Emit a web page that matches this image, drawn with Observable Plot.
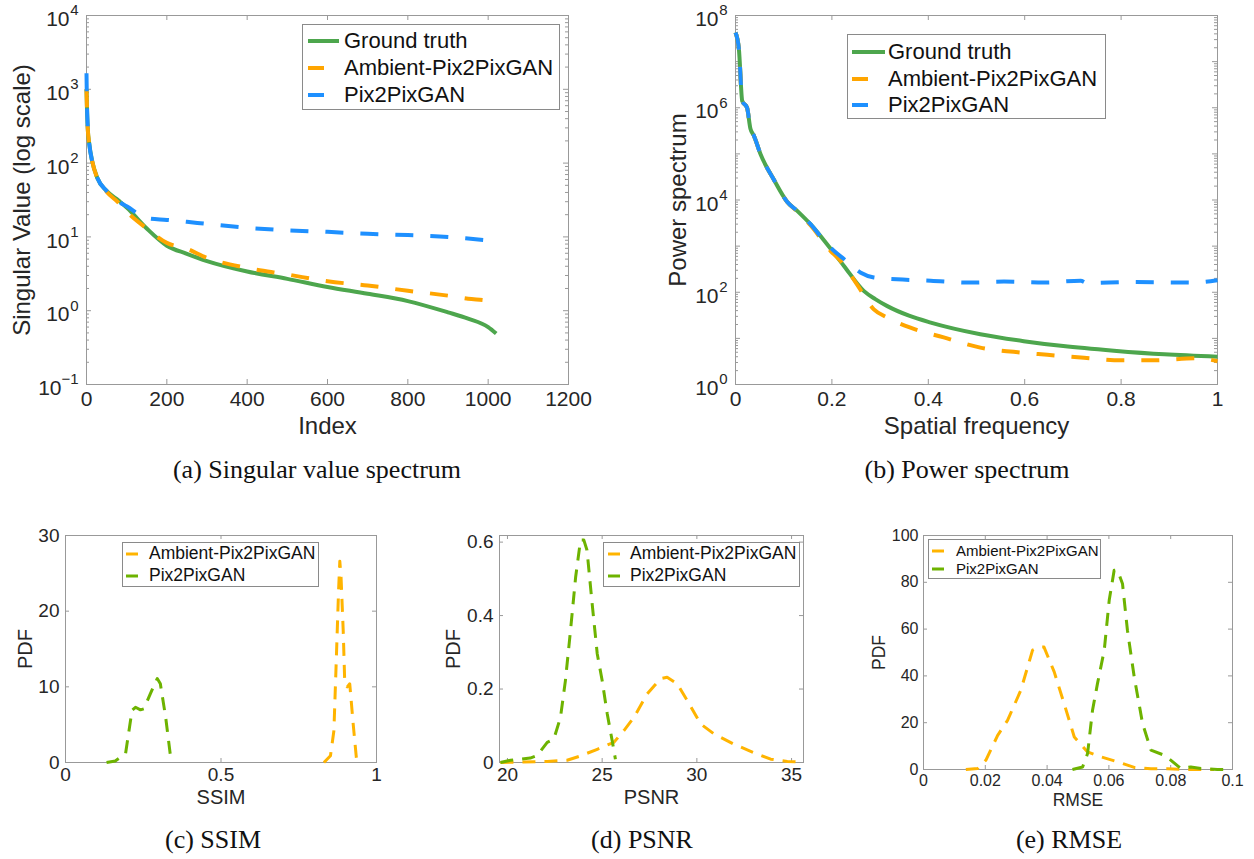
<!DOCTYPE html>
<html><head><meta charset="utf-8">
<script src="https://cdn.jsdelivr.net/npm/d3@7"></script>
<script src="https://cdn.jsdelivr.net/npm/@observablehq/plot@0.6"></script>
<style>
body{margin:0;background:#fff;width:1254px;height:859px;position:relative;overflow:hidden;font-family:"Liberation Sans",Arial,sans-serif;}
.cap{position:absolute;font-family:"Liberation Serif","Times New Roman",serif;font-size:26px;color:#111;transform:translate(-50%,-50%);white-space:nowrap;}
.leg{position:absolute;background:#fff;border:1px solid #8a8a8a;box-sizing:border-box;}
.leg .row{position:absolute;white-space:nowrap;color:#111;}
</style></head><body>
<script>
// ================= DATA =================
// (a) Singular value spectrum
const svIndex   = [0, 1, 3, 7, 14, 27, 50, 80, 100, 150, 200, 250, 300, 400, 500, 600, 700, 800, 900, 950, 1000, 1020];
const svTruth   = [1000, 600, 300, 180, 107, 63, 42, 31, 25, 13, 7.6, 5.9, 4.7, 3.4, 2.7, 2.1, 1.7, 1.35, 0.95, 0.78, 0.6, 0.49];
const svAmbient = [1000, 600, 300, 180, 107, 62, 41, 29, 22, 13, 8.3, 6.9, 5.2, 3.8, 3.1, 2.5, 2.2, 1.86, 1.6, 1.45, 1.36, 1.28];
const svPixIndex = [0, 1, 3, 7, 14, 27, 50, 80, 100, 150, 200, 250, 300, 400, 500, 600, 700, 800, 900, 950, 988];
const svPix      = [1650, 700, 320, 180, 107, 63, 42, 30, 26, 18, 17, 16, 15, 13.3, 12.3, 11.7, 11, 10.6, 10, 9.5, 9.1];
const svXTicks = [0, 200, 400, 600, 800, 1000, 1200];
const svYExp = [-1, 0, 1, 2, 3, 4];

// (b) Power spectrum
const psFreqTruth = [0, 0.007, 0.014, 0.024, 0.031, 0.038, 0.052, 0.08, 0.107, 0.128, 0.156, 0.19, 0.225, 0.266, 0.29, 0.315, 0.36, 0.405, 0.508, 0.598, 0.68, 0.785, 0.89, 1.0];
const psTruth     = [4.3e7, 1.9e7, 1.4e6, 1.0e6, 3.5e5, 2.5e5, 9.8e4, 2.7e4, 9.2e3, 5.8e3, 2.95e3, 1.1e3, 372, 107, 71, 50, 31, 22, 12.3, 8.7, 6.8, 5.4, 4.5, 4.0];
const psFreqAmbient = [0, 0.007, 0.014, 0.024, 0.031, 0.038, 0.052, 0.08, 0.107, 0.128, 0.156, 0.197, 0.218, 0.252, 0.287, 0.315, 0.363, 0.432, 0.508, 0.577, 0.647, 0.723, 0.80, 0.87, 0.958, 1.0];
const psAmbient     = [4.3e7, 1.9e7, 1.4e6, 1.0e6, 3.5e5, 2.5e5, 9.8e4, 2.7e4, 9.2e3, 5.6e3, 2.8e3, 790, 480, 148, 42.7, 28.2, 17, 10.5, 6.3, 5.1, 4.4, 3.8, 3.35, 3.35, 3.7, 3.2];
const psFreqPix = [0, 0.007, 0.014, 0.024, 0.031, 0.038, 0.052, 0.08, 0.107, 0.128, 0.156, 0.19, 0.204, 0.225, 0.259, 0.287, 0.335, 0.405, 0.488, 0.557, 0.64, 0.716, 0.73, 0.82, 0.945, 1.0];
const psPix     = [4.3e7, 1.9e7, 1.4e6, 1.0e6, 3.5e5, 2.5e5, 9.8e4, 2.7e4, 9.2e3, 5.8e3, 2.95e3, 1.1e3, 794, 525, 269, 209, 191, 178, 162, 170, 162, 178, 158, 166, 162, 182];
const psXTicks = [0, 0.2, 0.4, 0.6, 0.8, 1];
const psXLabels = ["0", "0.2", "0.4", "0.6", "0.8", "1"];
const psYExpLabeled = [0, 2, 4, 6, 8];

// (c) SSIM PDF
const ssimAmbientX = [0.831, 0.852, 0.863, 0.871, 0.878, 0.882, 0.886, 0.893, 0.898, 0.906, 0.914, 0.925, 0.936];
const ssimAmbientY = [0, 0.9, 4.2, 13.9, 22.7, 26.6, 24.5, 17.4, 10.4, 10.0, 10.4, 5.1, 0.3];
const ssimPixX = [0.132, 0.16, 0.193, 0.214, 0.225, 0.241, 0.252, 0.273, 0.295, 0.305, 0.322, 0.338];
const ssimPixY = [0, 0.2, 1.15, 6.9, 7.3, 6.96, 7.1, 9.1, 11.1, 10.4, 6.0, 0.7];
const ssimXTicks = [0, 0.5, 1];
const ssimXLabels = ["0", "0.5", "1"];
const ssimYTicks = [0, 10, 20, 30];

// (d) PSNR PDF
const psnrAmbientX = [19.63, 22.1, 23.15, 23.86, 24.74, 25.62, 26.15, 26.68, 27.38, 28.08, 28.43, 28.96, 29.49, 30.2, 30.9, 31.95, 33.0, 33.9, 34.78, 35.65];
const psnrAmbientY = [0, 0.003, 0.006, 0.018, 0.036, 0.055, 0.087, 0.123, 0.187, 0.228, 0.232, 0.214, 0.169, 0.105, 0.078, 0.050, 0.027, 0.009, 0.003, 0.001];
const psnrPixX = [19.63, 20.16, 21.2, 21.57, 22.1, 22.45, 22.8, 23.06, 23.33, 23.6, 23.86, 24.03, 24.2, 24.47, 24.74, 25.0, 25.27, 25.53, 25.7];
const psnrPixY = [0, 0.006, 0.012, 0.019, 0.055, 0.064, 0.123, 0.223, 0.36, 0.505, 0.606, 0.606, 0.578, 0.433, 0.296, 0.223, 0.132, 0.059, 0.009];
const psnrXTicks = [20, 25, 30, 35];
const psnrYTicks = [0, 0.2, 0.4, 0.6];
const psnrYLabels = ["0", "0.2", "0.4", "0.6"];

// (e) RMSE PDF
const rmseAmbientX = [0.0137, 0.0175, 0.0202, 0.024, 0.0272, 0.0315, 0.0353, 0.0374, 0.039, 0.0423, 0.0455, 0.0488, 0.0531, 0.0574, 0.0628, 0.0682, 0.0736, 0.079, 0.0854, 0.094];
const rmseAmbientY = [0, 0.4, 4, 14.6, 21, 33.9, 51, 52.3, 52.3, 41.7, 28.2, 13.9, 7.5, 5.4, 3.3, 0.9, 0.3, 0.3, 0, 0];
const rmsePixX = [0.0482, 0.0515, 0.0531, 0.0547, 0.0563, 0.0585, 0.0601, 0.0617, 0.0628, 0.0644, 0.066, 0.0682, 0.0709, 0.0736, 0.0779, 0.08, 0.0833, 0.0865, 0.0898, 0.0951, 0.099];
const rmsePixY = [0, 1.1, 6.8, 25.3, 36.7, 51, 72.3, 85.1, 85.1, 79.4, 59.5, 39.5, 19.6, 8.3, 6.1, 4, 0.4, 1.1, 0.4, 0, 0];
const rmseXTicks = [0, 0.02, 0.04, 0.06, 0.08, 0.1];
const rmseXLabels = ["0", "0.02", "0.04", "0.06", "0.08", "0.1"];
const rmseYTicks = [0, 20, 40, 60, 80, 100];

const seriesNames = ["Ground truth", "Ambient-Pix2PixGAN", "Pix2PixGAN"];

// ================= STYLE =================
const C = {green: "#4da64d", orange: "#ffa500", blue: "#1e90ff", bOrange: "#ffb400", bGreen: "#6db300", frame: "#999999", text: "#262626"};
const pts = (xs, ys) => xs.map((x, i) => ({x, y: ys[i]}));

function ticksX(vals, fh, len) {
  return [Plot.tickX(vals, {x: d => d, stroke: C.frame, insetTop: fh - len}),
          Plot.tickX(vals, {x: d => d, stroke: C.frame, insetBottom: fh - len})];
}
function ticksY(vals, fw, len) {
  return [Plot.tickY(vals, {y: d => d, stroke: C.frame, insetRight: fw - len}),
          Plot.tickY(vals, {y: d => d, stroke: C.frame, insetLeft: fw - len})];
}
function logMinor(lo, hi) { const o = []; for (let k = lo; k < hi; k++) for (let m = 2; m <= 9; m++) o.push(m * Math.pow(10, k)); return o; }
function expLabels(exps, fs, efs) {
  const pos = exps.filter(k => k >= 0), neg = exps.filter(k => k < 0);
  const marks = [];
  const grp = (ks, ew) => {
    if (!ks.length) return;
    marks.push(Plot.text(ks, {y: k => Math.pow(10, k), frameAnchor: "left", text: () => "10", textAnchor: "end", dx: -8 - ew, dy: 4, fontSize: fs, fill: C.text}));
    marks.push(Plot.text(ks, {y: k => Math.pow(10, k), frameAnchor: "left", text: k => (k < 0 ? "\u2212" + (-k) : String(k)), textAnchor: "end", dx: -8, dy: -5, fontSize: efs, fill: C.text}));
  };
  grp(pos, 9); grp(neg, 17);
  return marks;
}

function place(svg, left, top) {
  svg.style.position = "absolute"; svg.style.left = left + "px"; svg.style.top = top + "px";
  document.body.appendChild(svg);
}
function legend(left, top, w, h, rows, fs, swLen, swX, txtX, rowYs) {
  const d = document.createElement("div");
  d.className = "leg";
  Object.assign(d.style, {left: left + "px", top: top + "px", width: w + "px", height: h + "px"});
  rows.forEach((r, i) => {
    const s = document.createElementNS("http://www.w3.org/2000/svg", "svg");
    s.setAttribute("width", 40); s.setAttribute("height", 10);
    Object.assign(s.style, {position: "absolute", left: swX + "px", top: (rowYs[i] - 5) + "px"});
    const l = document.createElementNS("http://www.w3.org/2000/svg", "line");
    l.setAttribute("x1", 0); l.setAttribute("x2", r.solid ? swLen[0] : swLen[1]);
    l.setAttribute("y1", 5); l.setAttribute("y2", 5);
    l.setAttribute("stroke", r.color); l.setAttribute("stroke-width", r.w);
    s.appendChild(l); d.appendChild(s);
    const t = document.createElement("div");
    t.className = "row"; t.textContent = r.name;
    Object.assign(t.style, {left: txtX + "px", top: rowYs[i] + "px", fontSize: fs + "px", lineHeight: "1", transform: "translateY(-52%)"});
    d.appendChild(t);
  });
  document.body.appendChild(d);
}
function caption(text, cx, cy) {
  const d = document.createElement("div"); d.className = "cap"; d.textContent = text;
  d.style.left = cx + "px"; d.style.top = cy + "px"; document.body.appendChild(d);
}
const baseStyle = {fontFamily: "'Liberation Sans', Arial, sans-serif", background: "transparent", overflow: "visible", color: C.text};
const topLine = (data, color, dashed) => Plot.line(data, {x: "x", y: "y", curve: "monotone-x", stroke: color, strokeWidth: 4, strokeLinecap: "butt", strokeLinejoin: "round", strokeDasharray: dashed ? "18,17" : null});
const botLine = (data, color) => Plot.line(data, {x: "x", y: "y", stroke: color, strokeWidth: 3, strokeLinecap: "butt", strokeLinejoin: "round", strokeDasharray: "13,9"});

// ================= (a) =================
{
  const W = 600, H = 450, ml = 86, mr = 32, mt = 15, mb = 66;
  const fw = W - ml - mr, fh = H - mt - mb;
  const svg = Plot.plot({
    width: W, height: H, marginLeft: ml, marginRight: mr, marginTop: mt, marginBottom: mb,
    style: baseStyle,
    x: {domain: [0, 1200], axis: null},
    y: {type: "log", domain: [0.1, 1e4], axis: null},
    marks: [
      ...ticksX(svXTicks, fh, 5),
      ...ticksY(svYExp.map(k => Math.pow(10, k)), fw, 5),
      ...ticksY(logMinor(-1, 4), fw, 3),
      Plot.frame({stroke: C.frame}),
      topLine(pts(svIndex, svTruth), C.green, false),
      topLine(pts(svIndex, svAmbient), C.orange, true),
      topLine(pts(svPixIndex, svPix), C.blue, true),
      Plot.text(svXTicks, {x: d => d, frameAnchor: "bottom", dy: 21, text: d => String(d), fontSize: 21, fill: C.text}),
      ...expLabels(svYExp, 21, 15),
      Plot.text(["Index"], {frameAnchor: "bottom", dy: 49, text: d => d, textAnchor: "middle", fontSize: 24, fill: C.text}),
      Plot.text(["Singular Value (log scale)"], {frameAnchor: "left", dx: -64, rotate: -90, textAnchor: "middle", text: d => d, fontSize: 24, fill: C.text})
    ]
  });
  place(svg, 0, 0);
  legend(302, 24, 258, 86, [
    {name: seriesNames[0], color: C.green, w: 4, solid: true},
    {name: seriesNames[1], color: C.orange, w: 4},
    {name: seriesNames[2], color: C.blue, w: 4}
  ], 22, [31, 16], 5, 41, [16, 43, 70]);
  caption("(a) Singular value spectrum", 317, 470);
}

// ================= (b) =================
{
  const W = 634, H = 450, ml = 115, mr = 37, mt = 15, mb = 66;
  const fw = W - ml - mr, fh = H - mt - mb;
  const svg = Plot.plot({
    width: W, height: H, marginLeft: ml, marginRight: mr, marginTop: mt, marginBottom: mb,
    style: baseStyle,
    x: {domain: [0, 1], axis: null},
    y: {type: "log", domain: [1, 1e8], axis: null},
    marks: [
      ...ticksX(psXTicks, fh, 5),
      ...ticksY(d3.range(0, 9).map(k => Math.pow(10, k)), fw, 5),
      ...ticksY(logMinor(0, 8), fw, 3),
      Plot.frame({stroke: C.frame}),
      topLine(pts(psFreqTruth, psTruth), C.green, false),
      topLine(pts(psFreqAmbient, psAmbient), C.orange, true),
      topLine(pts(psFreqPix, psPix), C.blue, true),
      Plot.text(psXTicks, {x: d => d, frameAnchor: "bottom", dy: 21, text: (d, i) => psXLabels[i], fontSize: 21, fill: C.text}),
      ...expLabels(psYExpLabeled, 21, 15),
      Plot.text(["Spatial frequency"], {frameAnchor: "bottom", dy: 49, text: d => d, textAnchor: "middle", fontSize: 24, fill: C.text}),
      Plot.text(["Power spectrum"], {frameAnchor: "left", dx: -57, rotate: -90, textAnchor: "middle", text: d => d, fontSize: 24, fill: C.text})
    ]
  });
  place(svg, 620, 0);
  legend(847, 34, 259, 85, [
    {name: seriesNames[0], color: C.green, w: 4, solid: true},
    {name: seriesNames[1], color: C.orange, w: 4},
    {name: seriesNames[2], color: C.blue, w: 4}
  ], 22, [33, 16], 4, 40, [17, 44, 70]);
  caption("(b) Power spectrum", 967, 470);
}

// ================= bottom panels =================
function bottomPanel(o) {
  const fw = o.W - o.ml - o.mr, fh = o.H - o.mt - o.mb;
  const svg = Plot.plot({
    width: o.W, height: o.H, marginLeft: o.ml, marginRight: o.mr, marginTop: o.mt, marginBottom: o.mb,
    style: baseStyle,
    x: {domain: o.xd, axis: null},
    y: {domain: o.yd, axis: null},
    marks: [
      ...ticksX(o.xt, fh, 4),
      ...ticksY(o.yt, fw, 4),
      Plot.frame({stroke: C.frame}),
      botLine(o.a, C.bOrange),
      botLine(o.p, C.bGreen),
      Plot.text(o.xt, {x: d => d, frameAnchor: "bottom", dy: o.xdy, text: (d, i) => o.xl[i], fontSize: o.fs, fill: C.text}),
      Plot.text(o.yt, {y: d => d, frameAnchor: "left", dx: o.ydx, textAnchor: "end", text: (d, i) => o.yl[i], fontSize: o.fs, fill: C.text}),
      Plot.text([o.xlabel], {frameAnchor: "bottom", dy: o.xldy, textAnchor: "middle", text: d => d, fontSize: o.lfs, fill: C.text}),
      Plot.text(["PDF"], {frameAnchor: "left", dx: o.yldx, rotate: -90, textAnchor: "middle", text: d => d, fontSize: o.lfs, fill: C.text})
    ]
  });
  place(svg, o.left, o.top);
}

bottomPanel({left: 0, top: 500, W: 420, H: 330, ml: 65, mr: 44, mt: 35, mb: 68,
  xd: [0, 1], yd: [0, 30], xt: ssimXTicks, xl: ssimXLabels, yt: ssimYTicks, yl: ssimYTicks.map(String),
  a: pts(ssimAmbientX, ssimAmbientY), p: pts(ssimPixX, ssimPixY),
  fs: 19, lfs: 20, xdy: 18, ydx: -6, xlabel: "SSIM", xldy: 41, yldx: -40});
legend(122, 542, 197, 45, [
  {name: seriesNames[1], color: C.bOrange, w: 3},
  {name: seriesNames[2], color: C.bGreen, w: 3}
], 17.5, [12, 12], 3, 26, [11, 33]);
caption("(c) SSIM", 213, 840);

bottomPanel({left: 420, top: 500, W: 414, H: 330, ml: 79, mr: 31, mt: 35, mb: 68,
  xd: [19.58, 35.63], yd: [0, 0.618], xt: psnrXTicks, xl: psnrXTicks.map(String), yt: psnrYTicks, yl: psnrYLabels,
  a: pts(psnrAmbientX, psnrAmbientY), p: pts(psnrPixX, psnrPixY),
  fs: 19, lfs: 20, xdy: 18, ydx: -6, xlabel: "PSNR", xldy: 41, yldx: -46});
legend(603, 542, 197, 45, [
  {name: seriesNames[1], color: C.bOrange, w: 3},
  {name: seriesNames[2], color: C.bGreen, w: 3}
], 17.5, [12, 12], 4, 26, [11, 33]);
caption("(d) PSNR", 642, 840);

bottomPanel({left: 834, top: 500, W: 420, H: 330, ml: 89, mr: 22, mt: 35, mb: 61,
  xd: [0, 0.1], yd: [0, 100], xt: rmseXTicks, xl: rmseXLabels, yt: rmseYTicks, yl: rmseYTicks.map(String),
  a: pts(rmseAmbientX, rmseAmbientY), p: pts(rmsePixX, rmsePixY),
  fs: 16, lfs: 17.5, xdy: 16, ydx: -5, xlabel: "RMSE", xldy: 36, yldx: -44});
legend(928, 539, 173, 40, [
  {name: seriesNames[1], color: C.bOrange, w: 3},
  {name: seriesNames[2], color: C.bGreen, w: 3}
], 15, [12, 12], 3, 27, [11, 29]);
caption("(e) RMSE", 1069, 840);
</script>
</body></html>
